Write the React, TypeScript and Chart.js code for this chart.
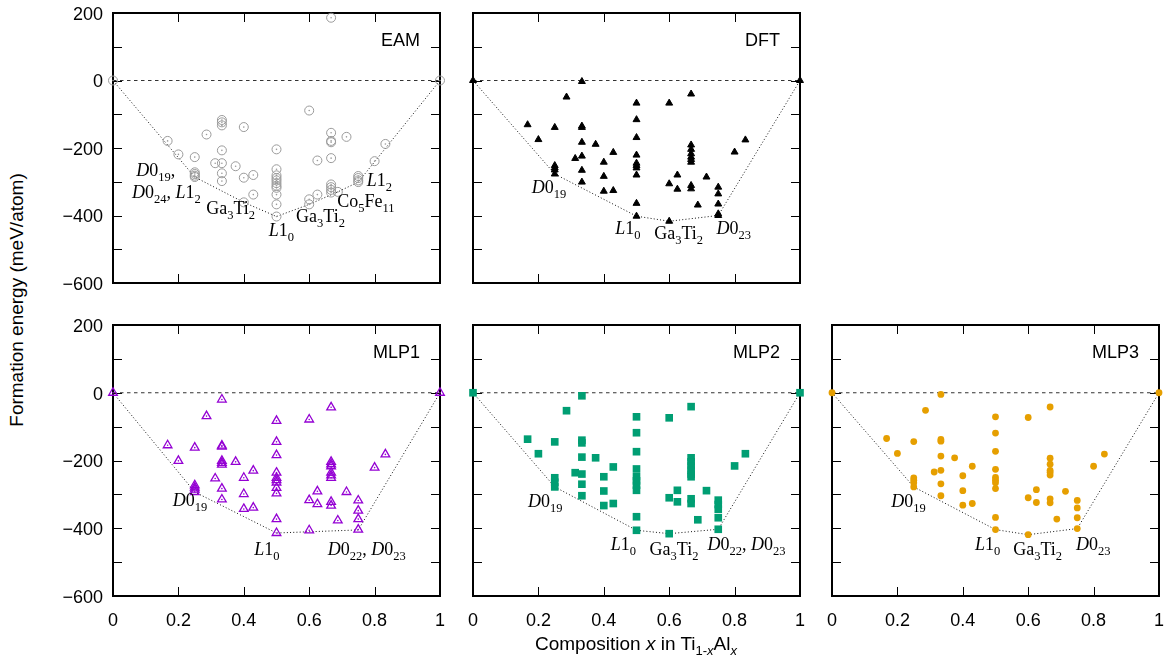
import React, { useEffect, useRef } from "react";
import { Chart, registerables } from "chart.js";

Chart.register(...registerables);

const SANS = '"Liberation Sans", Arimo, Arial, Helvetica, sans-serif';
const SERIF = '"Liberation Serif", "Times New Roman", Tinos, serif';

// ---------------- data (composition x, formation energy meV/atom) ----------------
const eamX = [0, 1, 0.667, 0.6, 0.333, 0.333, 0.333, 0.4, 0.286, 0.167, 0.2, 0.25, 0.333, 0.3125, 0.333, 0.375, 0.25, 0.25, 0.25, 0.25, 0.333, 0.333, 0.4, 0.429, 0.429, 0.4, 0.5, 0.5, 0.5, 0.5, 0.5, 0.5, 0.5, 0.5, 0.5, 0.5, 0.5, 0.6, 0.6, 0.625, 0.625, 0.667, 0.667, 0.667, 0.667, 0.667, 0.667, 0.667, 0.667, 0.6875, 0.714, 0.75, 0.75, 0.75, 0.75, 0.8, 0.833];
const eamE = [0, 0, 186, -89, -117, -124, -133, -138, -160, -179, -219, -227, -207, -245, -245, -254, -272, -277, -282, -286, -275, -298, -288, -280, -338, -361, -204, -263, -281, -289, -296, -304, -312, -318, -338, -367, -403, -352, -367, -338, -237, -155, -179, -183, -230, -308, -316, -324, -332, -330, -167, -283, -289, -296, -301, -239, -188];
const eamHullX = [0, 0.25, 0.4, 0.5, 0.6, 0.6875, 0.75, 1];
const eamHullE = [0, -286, -361, -403, -367, -330, -301, 0];

const dftX = [0, 1, 0.333, 0.286, 0.5, 0.6, 0.667, 0.167, 0.25, 0.333, 0.333, 0.5, 0.2, 0.333, 0.375, 0.5, 0.429, 0.667, 0.667, 0.667, 0.667, 0.667, 0.667, 0.833, 0.8, 0.3125, 0.333, 0.4, 0.5, 0.5, 0.5, 0.5, 0.5, 0.25, 0.25, 0.25, 0.25, 0.333, 0.4, 0.333, 0.4, 0.429, 0.625, 0.6, 0.625, 0.667, 0.667, 0.714, 0.6875, 0.75, 0.75, 0.75, 0.75, 0.75, 0.5, 0.5, 0.6];
const dftE = [0, 0, -3, -49, -67, -67, -40, -131, -139, -135, -139, -116, -175, -183, -189, -169, -213, -191, -204, -217, -227, -234, -242, -176, -212, -231, -224, -242, -221, -245, -252, -259, -280, -252, -259, -265, -277, -266, -284, -301, -328, -326, -280, -306, -322, -311, -321, -286, -369, -316, -336, -366, -395, -400, -364, -402, -417];
const dftHullX = [0, 0.25, 0.5, 0.6, 0.75, 1];
const dftHullE = [0, -277, -402, -417, -400, 0];

const mlp1X = [0, 1, 0.333, 0.286, 0.5, 0.6, 0.667, 0.167, 0.25, 0.333, 0.333, 0.5, 0.2, 0.333, 0.333, 0.333, 0.375, 0.5, 0.429, 0.833, 0.8, 0.667, 0.667, 0.667, 0.667, 0.667, 0.667, 0.3125, 0.4, 0.5, 0.5, 0.5, 0.5, 0.5, 0.5, 0.25, 0.25, 0.25, 0.25, 0.333, 0.4, 0.333, 0.4, 0.429, 0.625, 0.6, 0.625, 0.667, 0.667, 0.714, 0.6875, 0.75, 0.75, 0.75, 0.75, 0.5, 0.5, 0.6];
const mlp1E = [0, 0, -20, -69, -83, -79, -43, -155, -162, -156, -159, -145, -201, -201, -207, -212, -204, -184, -230, -182, -221, -204, -211, -217, -236, -244, -251, -253, -251, -236, -251, -258, -265, -281, -297, -273, -280, -286, -293, -283, -299, -315, -343, -339, -291, -317, -329, -322, -333, -293, -377, -318, -348, -373, -404, -373, -414, -406];
const mlp1HullX = [0, 0.25, 0.5, 0.75, 1];
const mlp1HullE = [0, -293, -414, -405, 0];

const mlp2X = [0, 1, 0.333, 0.286, 0.5, 0.6, 0.667, 0.167, 0.25, 0.333, 0.333, 0.5, 0.2, 0.333, 0.375, 0.5, 0.429, 0.833, 0.8, 0.667, 0.667, 0.667, 0.667, 0.667, 0.667, 0.3125, 0.333, 0.4, 0.5, 0.5, 0.5, 0.5, 0.5, 0.25, 0.25, 0.25, 0.333, 0.4, 0.333, 0.4, 0.429, 0.625, 0.6, 0.625, 0.667, 0.667, 0.714, 0.6875, 0.75, 0.75, 0.75, 0.75, 0.75, 0.5, 0.5, 0.6];
const mlp2E = [0, 0, -9, -53, -71, -74, -41, -137, -145, -140, -148, -118, -180, -190, -192, -174, -219, -180, -216, -192, -204, -216, -228, -240, -248, -236, -240, -248, -225, -248, -260, -273, -288, -251, -264, -278, -270, -290, -304, -333, -327, -288, -310, -322, -313, -327, -289, -375, -317, -330, -344, -369, -403, -366, -406, -416];
const mlp2HullX = [0, 0.25, 0.5, 0.6, 0.75, 1];
const mlp2HullE = [0, -278, -406, -416, -403, 0];

const mlp3X = [0, 1, 0.333, 0.286, 0.5, 0.6, 0.667, 0.167, 0.25, 0.333, 0.333, 0.5, 0.2, 0.333, 0.375, 0.5, 0.429, 0.833, 0.8, 0.667, 0.667, 0.667, 0.667, 0.667, 0.3125, 0.333, 0.4, 0.5, 0.5, 0.5, 0.5, 0.5, 0.25, 0.25, 0.25, 0.25, 0.333, 0.4, 0.333, 0.4, 0.429, 0.625, 0.6, 0.625, 0.667, 0.667, 0.714, 0.6875, 0.75, 0.75, 0.75, 0.75, 0.5, 0.5, 0.6];
const mlp3E = [0, 0, -5, -52, -71, -73, -42, -135, -144, -138, -143, -119, -179, -187, -192, -173, -217, -181, -217, -193, -211, -229, -235, -243, -234, -229, -245, -226, -250, -258, -266, -283, -251, -258, -266, -278, -269, -289, -304, -332, -327, -286, -310, -324, -313, -325, -291, -373, -318, -340, -369, -401, -368, -404, -419];
const mlp3HullX = [0, 0.25, 0.5, 0.6, 0.75, 1];
const mlp3HullE = [0, -278, -404, -419, -401, 0];

const zeroX = [0, 1];
const zeroE = [0, 0];

// structure annotations: anchor (x, energy) = left end of baseline; *..* italic, _{..} subscript
type Label = { x: number; y: number; text: string };
const eamLabels: Label[] = [
  { x: 0.071, y: -283, text: "*D*0_{19}," },
  { x: 0.058, y: -348, text: "*D*0_{24}, *L*1_{2}" },
  { x: 0.285, y: -395, text: "Ga_{3}Ti_{2}" },
  { x: 0.476, y: -462, text: "*L*1_{0}" },
  { x: 0.56, y: -418, text: "Ga_{3}Ti_{2}" },
  { x: 0.776, y: -313, text: "*L*1_{2}" },
  { x: 0.686, y: -375, text: "Co_{5}Fe_{11}" },
];
const dftLabels: Label[] = [
  { x: 0.18, y: -334, text: "*D*0_{19}" },
  { x: 0.435, y: -454, text: "*L*1_{0}" },
  { x: 0.554, y: -469, text: "Ga_{3}Ti_{2}" },
  { x: 0.745, y: -454, text: "*D*0_{23}" },
];
const mlp1Labels: Label[] = [
  { x: 0.183, y: -335, text: "*D*0_{19}" },
  { x: 0.432, y: -478, text: "*L*1_{0}" },
  { x: 0.657, y: -478, text: "*D*0_{22}, *D*0_{23}" },
];
const mlp2Labels: Label[] = [
  { x: 0.168, y: -337, text: "*D*0_{19}" },
  { x: 0.4216, y: -463, text: "*L*1_{0}" },
  { x: 0.54, y: -478, text: "Ga_{3}Ti_{2}" },
  { x: 0.717, y: -463, text: "*D*0_{22}, *D*0_{23}" },
];
const mlp3Labels: Label[] = [
  { x: 0.181, y: -337, text: "*D*0_{19}" },
  { x: 0.437, y: -463, text: "*L*1_{0}" },
  { x: 0.554, y: -478, text: "Ga_{3}Ti_{2}" },
  { x: 0.746, y: -463, text: "*D*0_{23}" },
];

const X_MIN = 0, X_MAX = 1, X_STEP = 0.2;
const Y_MIN = -600, Y_MAX = 200, Y_STEP = 100, Y_LABEL_STEP = 200;

// ---------------- layout ----------------
const PAD_L = 70, PAD_T = 25, PAD_R = 24, PAD_B = 45;

type Marker = {
  pointStyle: string;
  radius: number;
  fill: string;
  stroke: string;
  width: number;
  dot?: string;
};

type PanelCfg = {
  title: string;
  xs: number[];
  es: number[];
  hx: number[];
  he: number[];
  labels: Label[];
  marker: Marker;
  left: number;
  top: number;
  right: number;
  bottom: number;
  showY: boolean;
  showX: boolean;
};

const panels: PanelCfg[] = [
  { title: "EAM", xs: eamX, es: eamE, hx: eamHullX, he: eamHullE, labels: eamLabels,
    marker: { pointStyle: "circle", radius: 4.5, fill: "rgba(0,0,0,0)", stroke: "#9a9a9a", width: 1, dot: "#9a9a9a" },
    left: 113, top: 13, right: 440, bottom: 283, showY: true, showX: false },
  { title: "DFT", xs: dftX, es: dftE, hx: dftHullX, he: dftHullE, labels: dftLabels,
    marker: { pointStyle: "triangle", radius: 4, fill: "#000", stroke: "#000", width: 1 },
    left: 473, top: 13, right: 800, bottom: 283, showY: false, showX: false },
  { title: "MLP1", xs: mlp1X, es: mlp1E, hx: mlp1HullX, he: mlp1HullE, labels: mlp1Labels,
    marker: { pointStyle: "triangle", radius: 5, fill: "rgba(0,0,0,0)", stroke: "#9400d3", width: 1.3, dot: "#9400d3" },
    left: 113, top: 325, right: 440, bottom: 596, showY: true, showX: true },
  { title: "MLP2", xs: mlp2X, es: mlp2E, hx: mlp2HullX, he: mlp2HullE, labels: mlp2Labels,
    marker: { pointStyle: "rect", radius: 5.4, fill: "#009e73", stroke: "#009e73", width: 0 },
    left: 473, top: 325, right: 800, bottom: 596, showY: false, showX: true },
  { title: "MLP3", xs: mlp3X, es: mlp3E, hx: mlp3HullX, he: mlp3HullE, labels: mlp3Labels,
    marker: { pointStyle: "circle", radius: 3.4, fill: "#e69f00", stroke: "#e69f00", width: 0 },
    left: 832, top: 325, right: 1159, bottom: 596, showY: false, showX: true },
];

// ---------------- rich text ----------------
type Seg = { t: string; it: boolean; sub: boolean };
function parseRich(s: string): Seg[] {
  const out: Seg[] = [];
  let it = false;
  let buf = "";
  const flush = () => {
    if (buf) out.push({ t: buf, it, sub: false });
    buf = "";
  };
  for (let i = 0; i < s.length; i++) {
    const c = s[i];
    if (c === "*") {
      flush();
      it = !it;
    } else if (c === "_" && s[i + 1] === "{") {
      flush();
      const end = s.indexOf("}", i);
      out.push({ t: s.slice(i + 2, end), it: false, sub: true });
      i = end;
    } else buf += c;
  }
  flush();
  return out;
}

function drawRich(ctx: CanvasRenderingContext2D, text: string, x: number, y: number) {
  let cx = x;
  ctx.textAlign = "left";
  ctx.textBaseline = "alphabetic";
  ctx.fillStyle = "#000";
  for (const seg of parseRich(text)) {
    ctx.font = `${seg.it ? "italic " : ""}${seg.sub ? 12.5 : 18}px ${SERIF}`;
    ctx.fillText(seg.t, cx, y + (seg.sub ? 5 : 0));
    cx += ctx.measureText(seg.t).width;
  }
}

function fmtY(v: number): string {
  const r = Math.round(v);
  return r < 0 ? "\u2212" + Math.abs(r) : String(r);
}

function Panel({ cfg }: { cfg: PanelCfg }) {
  const ref = useRef<HTMLCanvasElement>(null);
  const w = cfg.right - cfg.left + PAD_L + PAD_R;
  const h = cfg.bottom - cfg.top + PAD_T + PAD_B;

  useEffect(() => {
    const canvas = ref.current;
    if (!canvas) return;
    const pts = cfg.xs.map((x, i) => ({ x, y: cfg.es[i] }));
    const hull = cfg.hx.map((x, i) => ({ x, y: cfg.he[i] }));
    const zero = zeroX.map((x, i) => ({ x, y: zeroE[i] }));
    const m = cfg.marker;

    const datasets: any[] = [];
    if (m.dot) {
      datasets.push({
        data: pts, pointStyle: "circle", pointRadius: 0.8, pointBackgroundColor: m.dot,
        pointBorderWidth: 0, showLine: false, clip: false,
      });
    }
    datasets.push({
      data: pts, pointStyle: m.pointStyle, pointRadius: m.radius, pointBackgroundColor: m.fill,
      pointBorderColor: m.stroke, pointBorderWidth: m.width, showLine: false, clip: false,
    });
    datasets.push({
      data: hull, showLine: true, pointRadius: 0, borderColor: "#111", borderWidth: 1,
      borderDash: [1, 2.2], fill: false, tension: 0,
    });
    datasets.push({
      data: zero, showLine: true, pointRadius: 0, borderColor: "#333", borderWidth: 1,
      borderDash: [3.5, 3.5], fill: false, tension: 0,
    });

    const panelPlugin = {
      id: "panelDecor",
      beforeDatasetsDraw(chart: any) {
        const { ctx, chartArea } = chart;
        const { left, top, right, bottom } = chartArea;
        const xs = chart.scales.x;
        const ys = chart.scales.y;
        ctx.save();
        ctx.strokeStyle = "#000";
        ctx.lineWidth = 1;
        ctx.beginPath();
        const TL = 9;
        ys.ticks.forEach((t: any) => {
          const py = Math.round(ys.getPixelForValue(t.value)) + 0.5;
          if (py <= top + 2 || py >= bottom - 2) return;
          ctx.moveTo(left, py);
          ctx.lineTo(left + TL, py);
          ctx.moveTo(right, py);
          ctx.lineTo(right - TL, py);
        });
        xs.ticks.forEach((t: any) => {
          const px = Math.round(xs.getPixelForValue(t.value)) + 0.5;
          if (px <= left + 2 || px >= right - 2) return;
          ctx.moveTo(px, top);
          ctx.lineTo(px, top + TL);
          ctx.moveTo(px, bottom);
          ctx.lineTo(px, bottom - TL);
        });
        ctx.stroke();
        ctx.lineWidth = 2;
        ctx.strokeRect(left, top, right - left, bottom - top);
        ctx.restore();
      },
      afterDatasetsDraw(chart: any) {
        const { ctx, chartArea } = chart;
        const xs = chart.scales.x;
        const ys = chart.scales.y;
        ctx.save();
        ctx.fillStyle = "#000";
        ctx.font = `18px ${SANS}`;
        ctx.textAlign = "right";
        ctx.textBaseline = "alphabetic";
        ctx.fillText(cfg.title, chartArea.right - 20, chartArea.top + 33);
        cfg.labels.forEach((lb) => {
          drawRich(ctx, lb.text, xs.getPixelForValue(lb.x), ys.getPixelForValue(lb.y));
        });
        ctx.restore();
      },
    };

    const chart = new Chart(canvas, {
      type: "scatter",
      data: { datasets },
      options: {
        animation: false,
        responsive: false,
        maintainAspectRatio: false,
        events: [],
        layout: { padding: { left: 0, top: PAD_T, right: PAD_R, bottom: 0 } },
        plugins: { legend: { display: false }, tooltip: { enabled: false } },
        scales: {
          x: {
            type: "linear",
            min: X_MIN,
            max: X_MAX,
            grid: { display: false, drawTicks: false },
            border: { display: false },
            ticks: {
              stepSize: X_STEP,
              autoSkip: false,
              maxRotation: 0,
              padding: 14,
              color: "#000",
              font: { size: 18, family: SANS },
              callback: (v: any) => (cfg.showX ? String(Math.round(Number(v) * 10) / 10) : ""),
            },
            afterFit: (s: any) => {
              s.height = PAD_B;
            },
          },
          y: {
            type: "linear",
            min: Y_MIN,
            max: Y_MAX,
            grid: { display: false, drawTicks: false },
            border: { display: false },
            ticks: {
              stepSize: Y_STEP,
              autoSkip: false,
              padding: 10,
              labelOffset: 2,
              color: "#000",
              font: { size: 18, family: SANS },
              callback: (v: any) => {
                const n = Number(v);
                return cfg.showY && Math.abs(n % Y_LABEL_STEP) < 1e-6 ? fmtY(n) : "";
              },
            },
            afterFit: (s: any) => {
              s.width = PAD_L;
            },
          },
        },
      } as any,
      plugins: [panelPlugin],
    });
    return () => chart.destroy();
  }, [cfg]);

  return (
    <canvas
      ref={ref}
      width={w}
      height={h}
      style={{ position: "absolute", left: cfg.left - PAD_L, top: cfg.top - PAD_T, width: w, height: h }}
    />
  );
}

const subStyle: React.CSSProperties = { fontSize: "13px", verticalAlign: "-5px", lineHeight: 0 };

export default function App() {
  return (
    <div
      style={{
        position: "absolute",
        left: 0,
        top: 0,
        width: 1164,
        height: 662,
        overflow: "hidden",
        background: "#fff",
        fontFamily: SANS,
        color: "#000",
      }}
    >
      {panels.map((p) => (
        <Panel key={p.title} cfg={p} />
      ))}
      <div
        style={{
          position: "absolute",
          left: 17,
          top: 300,
          transform: "translate(-50%, -50%) rotate(-90deg)",
          whiteSpace: "nowrap",
          fontSize: "19px",
          lineHeight: "20px",
        }}
      >
        Formation energy (meV/atom)
      </div>
      <div
        style={{
          position: "absolute",
          left: 113,
          width: 1046,
          top: 634,
          textAlign: "center",
          fontSize: "19px",
          lineHeight: "20px",
          whiteSpace: "nowrap",
        }}
      >
        Composition <i>x</i> in Ti<sub style={subStyle}>1-<i>x</i></sub>Al<sub style={subStyle}><i>x</i></sub>
      </div>
    </div>
  );
}
